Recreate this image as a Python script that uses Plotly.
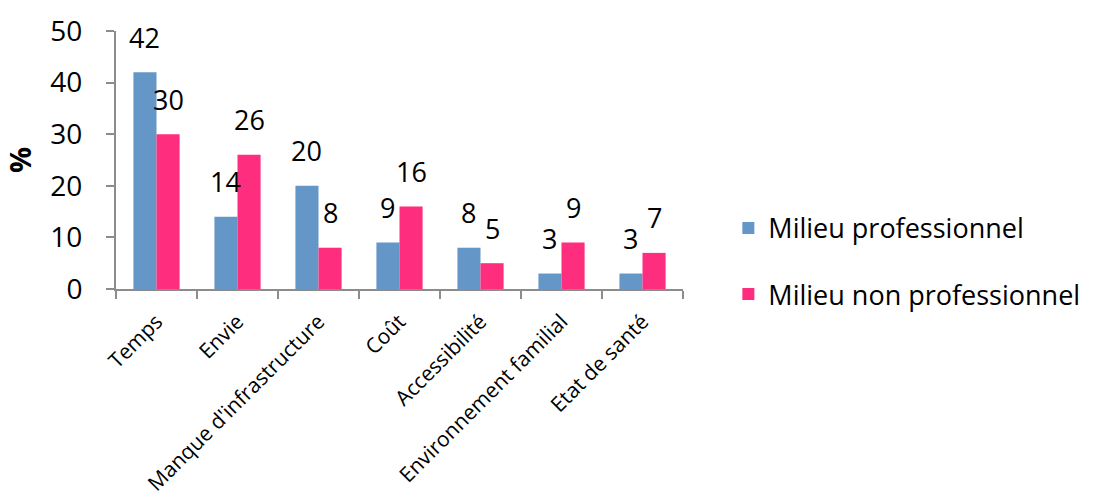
import plotly.graph_objects as go

categories = ["Temps", "Envie", "Manque d'infrastructure", "Coût",
              "Accessibilité", "Environnement familial", "Etat de santé"]
pro = [42, 14, 20, 9, 8, 3, 3]
non_pro = [30, 26, 8, 16, 5, 9, 7]
series_names = ["Milieu professionnel", "Milieu non professionnel"]
colors = ["#6497C8", "#FF2D7D"]

FONT = "Open Sans, Lato, sans-serif"

fig = go.Figure()
for name, vals, col, grp in [(series_names[0], pro, colors[0], "a"),
                             (series_names[1], non_pro, colors[1], "b")]:
    fig.add_trace(go.Bar(x=categories, y=vals, name=name, marker_color=col,
                         marker_line_width=0, legendgroup=grp))

# value labels floated above each bar
for vals, shift in [(pro, -12), (non_pro, 12)]:
    for c, v in zip(categories, vals):
        fig.add_annotation(x=c, y=v, text=str(v), showarrow=False,
                           xshift=shift, yshift=35, yanchor="middle",
                           font=dict(family=FONT, size=27, color="black"))

fig.update_layout(
    width=1103, height=504,
    margin=dict(l=116, r=420, t=31, b=215),
    plot_bgcolor="white", paper_bgcolor="white",
    barmode="group", bargap=0.43, bargroupgap=0,
    font=dict(family=FONT, color="black"),
    legend=dict(x=1.08, y=0.33, xanchor="left", yanchor="top",
                traceorder="grouped", tracegroupgap=28,
                font=dict(family=FONT, size=27, color="black"),
                itemwidth=30),
    showlegend=True,
)
fig.update_xaxes(showline=True, linecolor="#8c8c8c", linewidth=2,
                 ticks="outside", tickson="boundaries", ticklen=8,
                 tickcolor="#8c8c8c", tickwidth=2, tickangle=-45,
                 ticklabelstandoff=10, automargin=False,
                 tickfont=dict(family=FONT, size=21, color="black"))
fig.update_yaxes(range=[0, 50], dtick=10, showgrid=False, zeroline=False,
                 showline=True, linecolor="#8c8c8c", linewidth=2,
                 ticks="outside", ticklen=8, tickcolor="#8c8c8c", tickwidth=2,
                 ticklabelstandoff=18,
                 tickfont=dict(family=FONT, size=28, color="black"),
                 title=dict(text="<b>%</b>", standoff=12,
                            font=dict(family=FONT, size=29, color="black")))

fig.write_html("out.html")
